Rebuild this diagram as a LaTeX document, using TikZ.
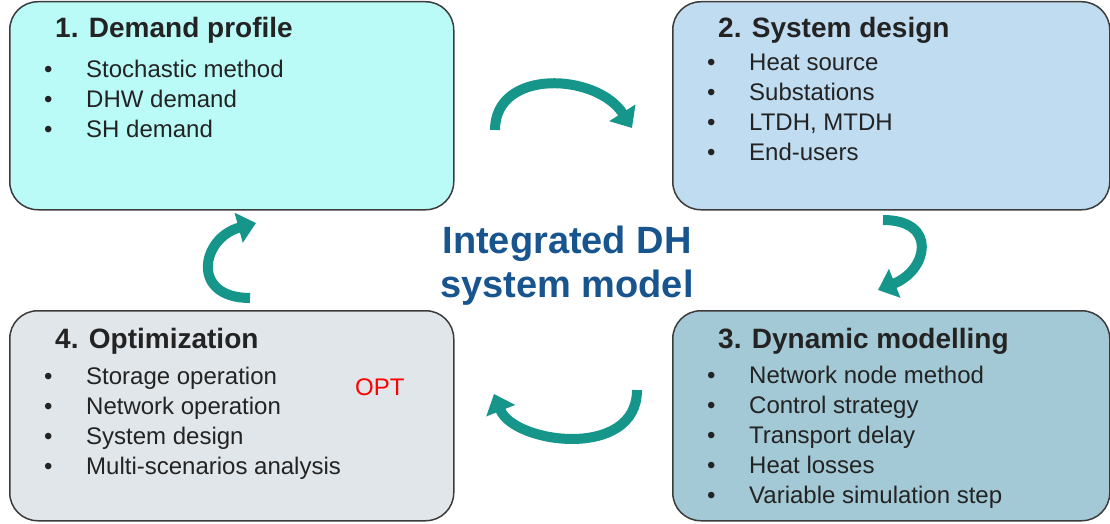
\documentclass[tikz,border=0pt]{standalone}
\usepackage{fontspec}
\setmainfont{Liberation Sans}
\usetikzlibrary{arrows.meta,positioning}
\definecolor{dembg}{RGB}{186,250,247}
\definecolor{sysbg}{RGB}{192,220,240}
\definecolor{dynbg}{RGB}{162,201,213}
\definecolor{optbg}{RGB}{225,230,234}
\definecolor{boxline}{RGB}{60,60,60}
\definecolor{ink}{RGB}{35,35,35}
\definecolor{cycteal}{RGB}{22,150,138}
\definecolor{mdlblue}{RGB}{24,84,142}
\newcommand\bul{\makebox[42pt][l]{\textbullet}}

\begin{document}
\begin{tikzpicture}[x=1pt, y=1pt,
  box/.style={draw=boxline, line width=1.5pt, rounded corners=28pt, anchor=north west, inner sep=0pt},
  ttl/.style={anchor=base west, inner sep=0pt, text=ink, font=\fontsize{28}{34}\selectfont\bfseries},
  lst/.style={anchor=north west, inner sep=0pt, align=left, text=ink, font=\fontsize{24}{30}\selectfont},
  cyc/.style={line width=10pt, draw=cycteal, -{Triangle[length=18pt,width=30pt]}}]
\useasboundingbox (0,0) rectangle (1110,-524);

% the four stages
\node[box, fill=dembg, minimum width=444pt, minimum height=208pt] (dem) at (9,-1) {};
\node[box, fill=sysbg, minimum width=437pt, minimum height=208pt] (sysd) at (672,-1) {};
\node[box, fill=dynbg, minimum width=437pt, minimum height=210pt] (dyn) at (672,-310) {};
\node[box, fill=optbg, minimum width=444pt, minimum height=210pt] (opt) at (9,-310) {};

\node[ttl] (demT) at ([shift={(46,-37)}]dem.north west) {1. Demand profile};
\node[lst] (demL) at ([shift={(35,-59)}]dem.north west) {\bul Stochastic method\\ \bul DHW demand\\ \bul SH demand};

\node[ttl] (sysT) at ([shift={(46,-37)}]sysd.north west) {2. System design};
\node[lst] (sysL) at ([shift={(35,-53)}]sysd.north west) {\bul Heat source\\ \bul Substations\\ \bul LTDH, MTDH\\ \bul End-users};

\node[ttl] (dynT) at ([shift={(46,-38)}]dyn.north west) {3. Dynamic modelling};
\node[lst] (dynL) at ([shift={(35,-56)}]dyn.north west) {\bul Network node method\\ \bul Control strategy\\ \bul Transport delay\\ \bul Heat losses\\ \bul Variable simulation step};

\node[ttl] (optT) at ([shift={(46,-38)}]opt.north west) {4. Optimization};
\node[lst] (optL) at ([shift={(35,-57)}]opt.north west) {\bul Storage operation\\ \bul Network operation\\ \bul System design\\ \bul Multi-scenarios analysis};
\node[anchor=base west, inner sep=0pt, text=red, font=\fontsize{24}{30}\selectfont] (optR) at ([shift={(346,-85)}]opt.north west) {OPT};

% centre label
\node[align=center, text=mdlblue, font=\fontsize{38}{44}\selectfont\bfseries, inner sep=0pt] (mdl) at (567,-266) {Integrated DH\\system model};

% cycle arrows
\coordinate (a1) at (495,-130);
\coordinate (b1) at (632,-128);
\coordinate (a2) at (883,-220);
\coordinate (b2) at (878,-290);
\coordinate (a3) at (637,-390);
\coordinate (b3) at (494,-394);
\coordinate (a4) at (250,-298);
\coordinate (b4) at (256,-223);
\draw[cyc] (a1) .. controls +(0,62) and +(-35,55) .. (b1);
\draw[cyc] (a2) .. controls +(55,0) and +(50,20) .. (b2);
\draw[cyc] (a3) .. controls +(0,-70) and +(20,-50) .. (b3);
\draw[cyc] (a4) .. controls +(-60,0) and +(-55,-15) .. (b4);
\end{tikzpicture}
\end{document}
